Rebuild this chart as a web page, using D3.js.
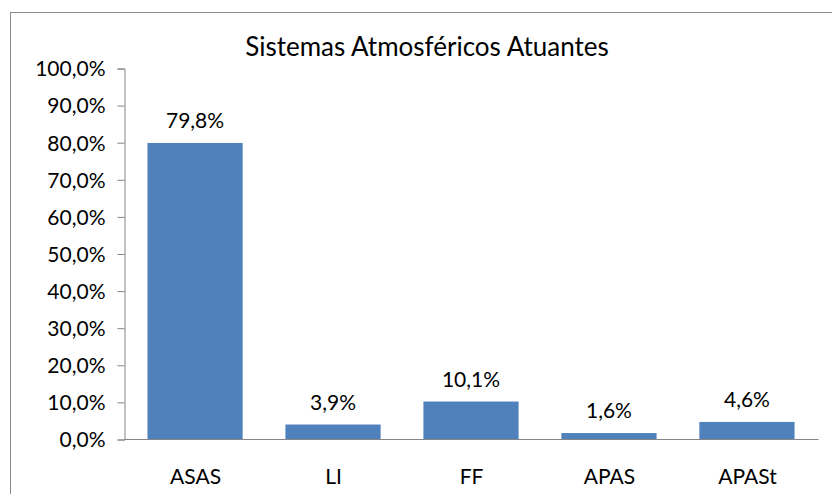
<!DOCTYPE html>
<html>
<head>
<meta charset="utf-8">
<script src="https://cdn.jsdelivr.net/npm/d3@7"></script>
<style>
  html, body { margin: 0; padding: 0; background: #fff; }
  svg { display: block; }
  text { font-family: Lato, "Open Sans", sans-serif; fill: #000; }
</style>
</head>
<body>
<svg id="chart" width="832" height="494"></svg>
<script>
// Atmospheric systems and their share of occurrences (%)
const categories = ["ASAS", "LI", "FF", "APAS", "APASt"];
const values = [79.8, 3.9, 10.1, 1.6, 4.6];
const tickValues = [0, 10, 20, 30, 40, 50, 60, 70, 80, 90, 100];
const title = "Sistemas Atmosféricos Atuantes";

const fmt = v => v.toFixed(1).replace(".", ",") + "%";

const svg = d3.select("#chart");

// outer frame
svg.append("rect")
  .attr("x", 10.5).attr("y", 12.5)
  .attr("width", 840).attr("height", 500)
  .attr("fill", "none").attr("stroke", "#898989").attr("stroke-width", 1);

const plotLeft = 124, plotRight = 818, plotTop = 68, plotBottom = 439;

const x = d3.scaleBand().domain(categories).range([plotLeft, plotRight]).paddingInner(0.31).paddingOuter(0.17);
const y = d3.scaleLinear().domain([0, 100]).range([plotBottom, plotTop]);

svg.append("text")
  .attr("x", 427).attr("y", 56)
  .attr("text-anchor", "middle")
  .style("font-size", "26px")
  .text(title);

// y axis
const yAxis = d3.axisLeft(y).tickValues(tickValues).tickSize(7).tickPadding(12).tickFormat(fmt);
const gy = svg.append("g").attr("transform", `translate(${plotLeft + 0.5},0.5)`).call(yAxis);
gy.selectAll("path, line").attr("stroke", "#868686");
gy.selectAll("text").style("font-size", "21px").attr("dy", "0.35em");

// bars
svg.append("g").selectAll("rect")
  .data(values)
  .join("rect")
  .attr("x", (d, i) => x(categories[i]))
  .attr("width", x.bandwidth())
  .attr("y", d => y(d))
  .attr("height", d => y(0) - y(d))
  .attr("fill", "#4F81BD");

// value labels
svg.append("g").selectAll("text")
  .data(values)
  .join("text")
  .attr("x", (d, i) => x(categories[i]) + x.bandwidth() / 2)
  .attr("y", d => y(d) - 15)
  .attr("text-anchor", "middle")
  .style("font-size", "21px")
  .text(fmt);

// x axis
const xAxis = d3.axisBottom(x).tickSize(0).tickPadding(30);
const gx = svg.append("g").attr("transform", `translate(0.5,${plotBottom + 0.5})`).call(xAxis);
gx.select("path").attr("stroke", "#868686").attr("d", `M${plotLeft},0H${plotRight}`);
gx.selectAll("text").style("font-size", "21px");
</script>
</body>
</html>
